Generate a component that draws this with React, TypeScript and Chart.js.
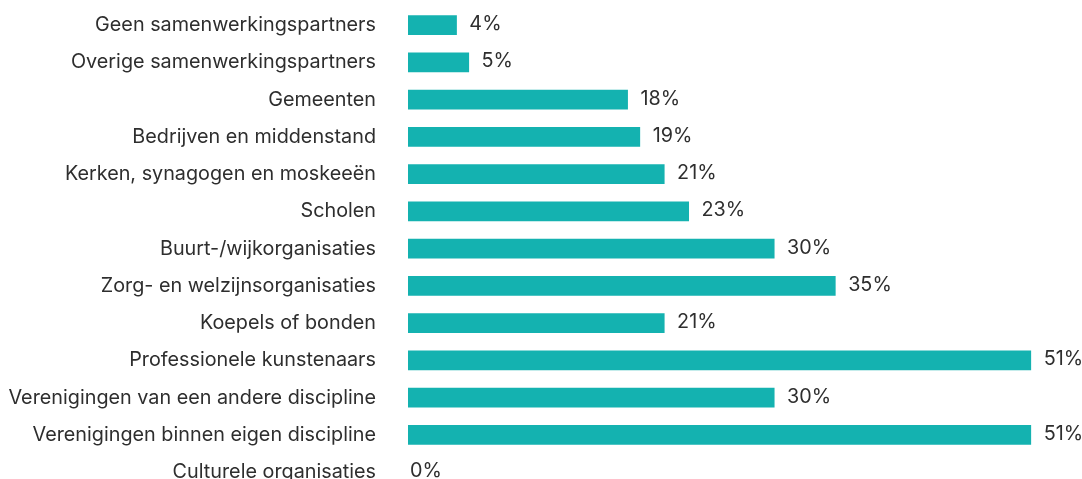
import React, { useEffect, useRef } from "react";
import { Chart, registerables } from "chart.js";

Chart.register(...registerables);

const categories: string[] = [
  "Geen samenwerkingspartners",
  "Overige samenwerkingspartners",
  "Gemeenten",
  "Bedrijven en middenstand",
  "Kerken, synagogen en moskeeën",
  "Scholen",
  "Buurt-/wijkorganisaties",
  "Zorg- en welzijnsorganisaties",
  "Koepels of bonden",
  "Professionele kunstenaars",
  "Verenigingen van een andere discipline",
  "Verenigingen binnen eigen discipline",
  "Culturele organisaties",
];

const values: number[] = [4, 5, 18, 19, 21, 23, 30, 35, 21, 51, 30, 51, 0];

const BAR_COLOR = "#14b2b0";
const TEXT_COLOR = "#2e2e2e";
const FONT = "Inter, 'Open Sans', sans-serif";
const FONT_SIZE = 19.8;

const valueLabelPlugin = {
  id: "valueLabels",
  afterDatasetsDraw(chart: any) {
    const { ctx } = chart;
    const meta = chart.getDatasetMeta(0);
    ctx.save();
    ctx.fillStyle = TEXT_COLOR;
    ctx.font = `${FONT_SIZE}px ${FONT}`;
    ctx.textAlign = "left";
    ctx.textBaseline = "middle";
    meta.data.forEach((bar: any, i: number) => {
      const v = chart.data.datasets[0].data[i];
      const gap = v > 0 ? 12.5 : 2;
      ctx.fillText(`${v}%`, bar.x + gap, bar.y - 1);
    });
    ctx.restore();
  },
};

export default function App() {
  const canvasRef = useRef<HTMLCanvasElement | null>(null);

  useEffect(() => {
    if (!canvasRef.current) return;
    const chart = new Chart(canvasRef.current, {
      type: "bar",
      data: {
        labels: categories,
        datasets: [
          {
            data: values,
            backgroundColor: BAR_COLOR,
            borderWidth: 0,
            categoryPercentage: 1,
            barPercentage: 0.53,
          },
        ],
      },
      options: {
        indexAxis: "y",
        animation: false,
        responsive: false,
        maintainAspectRatio: false,
        devicePixelRatio: 1,
        layout: { padding: { top: 6.4, bottom: 4.1, left: 0, right: 2 } },
        plugins: {
          legend: { display: false },
          tooltip: { enabled: false },
        },
        scales: {
          x: {
            display: false,
            min: 0,
            max: 55,
          },
          y: {
            grid: { display: false, drawTicks: false },
            border: { display: false },
            ticks: {
              padding: 32,
              color: TEXT_COLOR,
              font: { size: FONT_SIZE, family: FONT },
              autoSkip: false,
            },
            afterFit: (scale: any) => {
              scale.width = 408;
              scale.paddingTop = 0;
              scale.paddingBottom = 0;
            },
          },
        },
      },
      plugins: [valueLabelPlugin],
    });
    return () => chart.destroy();
  }, []);

  return (
    <div
      style={{
        position: "fixed",
        left: 0,
        top: 0,
        width: 1082,
        height: 479,
        overflow: "hidden",
        background: "#fff",
      }}
    >
      <canvas
        ref={canvasRef}
        width={1082}
        height={495}
        style={{ display: "block", width: 1082, height: 495 }}
      />
    </div>
  );
}
